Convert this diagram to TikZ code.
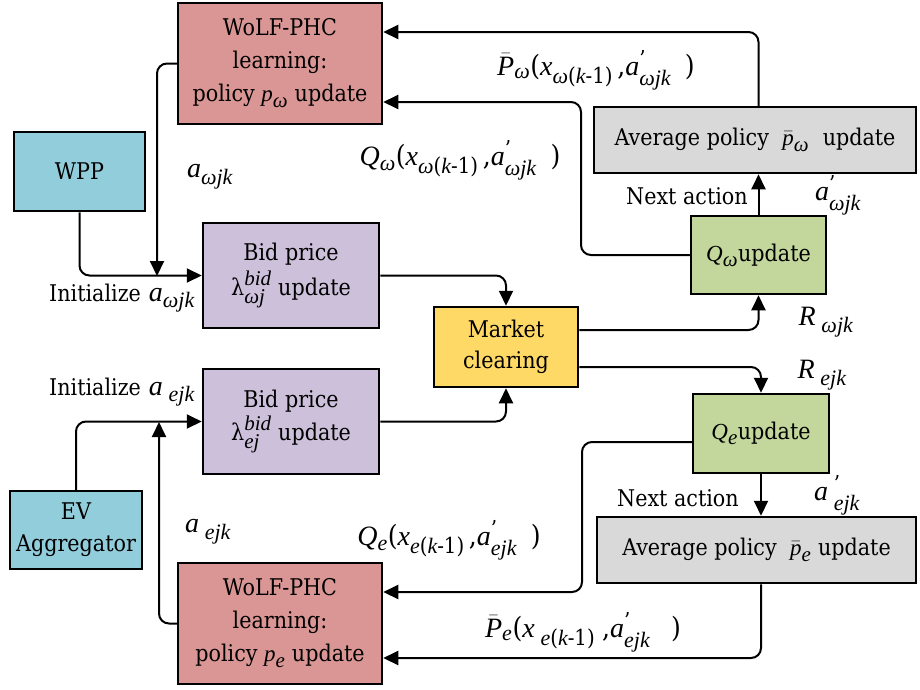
\documentclass[tikz,border=0pt]{standalone}
\usepackage{amsmath}
\usepackage{fontspec}
\setmainfont{DejaVu Serif Condensed}[ItalicFont={Liberation Serif Italic}]
\usetikzlibrary{arrows.meta}
\definecolor{wolfc}{HTML}{DA9694}
\definecolor{bluec}{HTML}{92CDDC}
\definecolor{bidc}{HTML}{CCC0DA}
\definecolor{mktc}{HTML}{FFD966}
\definecolor{avgc}{HTML}{D9D9D9}
\definecolor{qc}{HTML}{C3D69B}
\newcommand{\fs}{\fontsize{23}{33}\selectfont}
\newcommand{\fl}{\fontsize{28}{32}\selectfont}
\DeclareMathSizes{23}{26}{21}{15}
\DeclareMathSizes{28}{29}{22}{16}
\newcommand{\ti}[1]{\text{\itshape #1}}
\newcommand{\tu}[1]{\text{#1}}
\newcommand{\kmo}{\ti{k}\tu{-1}}
\tikzset{
  box/.style={draw, line width=2.5pt, align=center, inner sep=0pt, font=\fs},
  conn/.style={line width=2pt, rounded corners=10pt, -{Triangle[length=15pt,width=14pt]}},
  lbl/.style={font=\fl, inner sep=0pt}
}
\begin{document}
\begin{tikzpicture}[x=1pt,y=-1pt]
\useasboundingbox (0,0) rectangle (920,689);
% boxes
\node[box, fill=wolfc, minimum width=204pt, minimum height=121pt] (wolfw) at (280,63.5) {WoLF-PHC\\learning:\\policy $\ti{p}_{\ti{ω}}$ update};
\node[box, fill=bluec, minimum width=131pt, minimum height=79pt] (wpp) at (79.5,171.5) {WPP};
\node[box, fill=bidc, minimum width=176pt, minimum height=105pt] (bidw) at (291,275.5) {Bid price\\[2pt]$\tu{λ}^{\ti{bid}}_{\ti{ωj}}$ update};
\node[box, fill=mktc, minimum width=144pt, minimum height=80pt, font=\fontsize{23}{31}\selectfont] (market) at (506,347) {Market\\clearing};
\node[box, fill=avgc, minimum width=322pt, minimum height=66pt] (avgw) at (755,140) {Average policy $\;\bar{\ti{p}}_{\ti{ω}}\;$ update};
\node[box, fill=qc, minimum width=135pt, minimum height=78pt] (qw) at (758.5,255) {$\ti{Q}_{\ti{ω}}$update};
\node[box, fill=qc, minimum width=136pt, minimum height=79pt] (qe) at (761,433.5) {$\ti{Q}_{\ti{e}}$update};
\node[box, fill=avgc, minimum width=319pt, minimum height=66pt] (avge) at (756.5,550) {Average policy $\;\bar{\ti{p}}_{\ti{e}}$ update};
\node[box, fill=bidc, minimum width=176pt, minimum height=105pt] (bide) at (291,421.5) {Bid price\\[0pt]$\tu{λ}^{\ti{bid}}_{\ti{ej}}$ update};
\node[box, fill=bluec, minimum width=132pt, minimum height=78pt, font=\fontsize{23}{32}\selectfont] (ev) at (76,530) {EV\\Aggregator};
\node[box, fill=wolfc, minimum width=204pt, minimum height=121pt] (wolfe) at (280,623.5) {WoLF-PHC\\learning:\\policy $\ti{p}_{\ti{e}}$ update};
% junction coordinates
\coordinate (j1) at (157,276);
\coordinate (j2) at (159,422);
\coordinate (cw) at (581,102);
\coordinate (ce) at (582,592);
% connectors
\draw[conn] (qw.north |- avgw.north) |- (wolfw.east |- 0,32);
\draw[conn] (qw.west) -| (cw) -- (wolfw.east |- cw);
\draw[conn] (qw.north) -- (qw.north |- avgw.south);
\draw[conn] (bidw.east) -| (market.north);
\draw[conn] (market.east |- 0,330) -| (qw.south);
\draw[conn] (market.east |- 0,367) -| (qe.north);
\draw[conn] (qe.south) -- (qe.south |- avge.north);
\draw[conn] (qe.south |- avge.south) |- (wolfe.east |- 0,658);
\draw[conn] (qe.west |- 0,442) -| (ce) -- (wolfe.east |- ce);
\draw[conn] (bide.east) -| (market.south);
\draw[conn] (ev.north) |- (bide.west);
\draw[conn] (wolfe.west) -| (j2);
\draw[conn] (wpp.south) |- (bidw.west);
\draw[conn] (wolfw.west) -| (j1);
% labels
\node[lbl] (l1) at (210,177) {$\ti{a}_{\ti{ωjk}}$};
\node[lbl] (l2) at (122,298) {{\fs Initialize} $\ti{a}_{\ti{ωjk}}$};
\node[lbl] (l3) at (460,160) {$\ti{Q}_{\ti{ω}}\tu{(}\ti{x}_{\ti{ω}\tu{(}\kmo\tu{)}}\,\tu{,}\ti{a}^{\tu{’}}_{\ti{ωjk}}\;\;\tu{)}$};
\node[lbl] (l4) at (596,70) {$\bar{\ti{P}}_{\ti{ω}}\tu{(}\ti{x}_{\ti{ω}\tu{(}\kmo\tu{)}}\,\tu{,}\ti{a}^{\tu{’}}_{\ti{ωjk}}\;\;\tu{)}$};
\node[lbl, font=\fs] (l5) at (687,196) {Next action};
\node[lbl] (l6) at (838,195) {$\ti{a}^{\tu{’}}_{\ti{ωjk}}$};
\node[lbl] (l7) at (826,322) {$\ti{R}_{\;\ti{ωjk}}$};
\node[lbl] (l8) at (822,375) {$\ti{R}_{\;\ti{ejk}}$};
\node[lbl] (l9) at (122,392) {{\fs Initialize} $\ti{a}_{\;\ti{ejk}}$};
\node[lbl] (l10) at (208,532) {$\ti{a}_{\;\ti{ejk}}$};
\node[lbl] (l11) at (449,540) {$\ti{Q}_{\ti{e}}\tu{(}\ti{x}_{\ti{e}\tu{(}\kmo\tu{)}}\,\tu{,}\ti{a}^{\tu{’}}_{\ti{ejk}}\;\;\tu{)}$};
\node[lbl, font=\fs] (l12) at (678,498) {Next action};
\node[lbl] (l13) at (837,495) {$\ti{a}^{\;\tu{’}}_{\;\ti{ejk}}$};
\node[lbl] (l14) at (583,632) {$\bar{\ti{P}}_{\ti{e}}\tu{(}\ti{x}_{\;\ti{e}\tu{(}\kmo\tu{)}}\;\tu{,}\ti{a}^{\tu{’}}_{\ti{ejk}}\;\;\;\tu{)}$};
\end{tikzpicture}
\end{document}
